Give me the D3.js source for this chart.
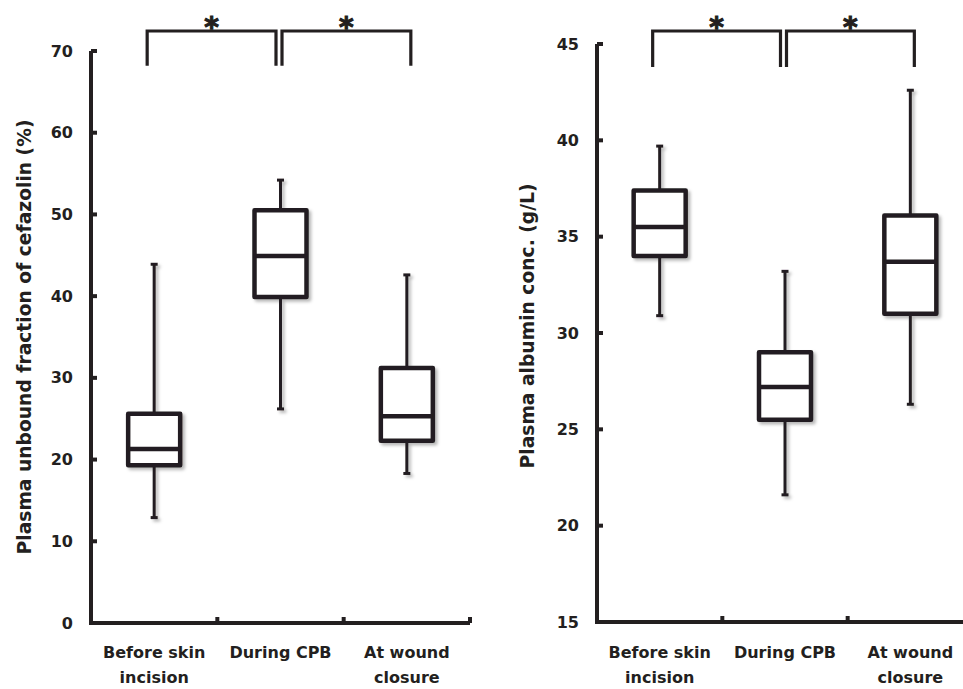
<!DOCTYPE html>
<html><head><meta charset="utf-8">
<script src="https://cdn.jsdelivr.net/npm/d3@7"></script>
<style>
html,body{margin:0;padding:0;background:#fff;}
svg text{font-family:"DejaVu Sans",sans-serif;font-weight:700;fill:#231f20;}
</style></head>
<body><svg id="c" width="963" height="689"></svg>
<script>
const categories = ["Before skin|incision", "During CPB", "At wound|closure"];

// Panel A: plasma unbound fraction of cefazolin (%)
const fracMin = [12.9, 26.2, 18.3];
const fracQ1  = [19.3, 39.9, 22.3];
const fracMed = [21.3, 44.9, 25.3];
const fracQ3  = [25.6, 50.5, 31.2];
const fracMax = [43.9, 54.2, 42.6];
const fracTicks = [0, 10, 20, 30, 40, 50, 60, 70];

// Panel B: plasma albumin conc. (g/L)
const albMin = [30.9, 21.6, 26.3];
const albQ1  = [34.0, 25.5, 31.0];
const albMed = [35.5, 27.2, 33.7];
const albQ3  = [37.4, 29.0, 36.1];
const albMax = [39.7, 33.2, 42.6];
const albTicks = [15, 20, 25, 30, 35, 40, 45];

// significance brackets: [from, to] category index
const sigPairs = [[0, 1], [1, 2]];
const sigLabel = "*";

const svg = d3.select("#c");
const ink = "#231f20";
const FONT = '"DejaVu Sans",sans-serif';

const defs = svg.append("defs");
const f = defs.append("filter").attr("id","sh").attr("x","-50%").attr("y","-50%").attr("width","200%").attr("height","200%");
f.append("feDropShadow").attr("dx",2.5).attr("dy",2.5).attr("stdDeviation",1.6)
 .attr("flood-color","#000").attr("flood-opacity",0.28);

function panel(opt){
  const g = svg.append("g");
  const y = d3.scaleLinear().domain(opt.domain).range([opt.y0, opt.y1]);
  const x = d3.scaleBand().domain(d3.range(categories.length)).range([opt.x0, opt.x1]).paddingInner(0).paddingOuter(0);
  const bw = x.bandwidth();
  const cx = i => x(i) + bw/2;

  // Y axis
  const ya = d3.axisLeft(y).tickValues(opt.ticks).tickSize(0).tickPadding(opt.tickPad).tickFormat(d3.format("d"));
  const yg = g.append("g").attr("transform",`translate(${opt.x0},0)`).call(ya);
  yg.select(".domain").remove();
  yg.selectAll("text").attr("font-size",16).attr("fill",ink).style("font-family",FONT).style("font-weight",700);
  g.append("line").attr("x1",opt.x0).attr("x2",opt.x0).attr("y1",y(opt.domain[0])+2).attr("y2",y(opt.domain[1]))
    .attr("stroke",ink).attr("stroke-width",4);
  g.selectAll(".ytk").data(opt.ticks).join("line").attr("x1",opt.x0).attr("x2",opt.x0+6)
    .attr("y1",d=>y(d)).attr("y2",d=>y(d)).attr("stroke",ink).attr("stroke-width",4);

  // X axis
  g.append("line").attr("x1",opt.x0-2).attr("x2",opt.x1).attr("y1",y(opt.domain[0])).attr("y2",y(opt.domain[0]))
    .attr("stroke",ink).attr("stroke-width",4);
  const xt = d3.range(1, categories.length+1).map(i => opt.x0 + i*bw);
  g.selectAll(".xtk").data(xt).join("line").attr("x1",d=>d).attr("x2",d=>d)
    .attr("y1",y(opt.domain[0])).attr("y2",y(opt.domain[0])-6).attr("stroke",ink).attr("stroke-width",4);

  // X labels
  categories.forEach((c,i)=>{
    const t = g.append("text").attr("text-anchor","middle").attr("font-size",16).attr("x",cx(i));
    c.split("|").forEach((l,k)=>{
      t.append("tspan").attr("x",cx(i)).attr("y",opt.labY + k*25).text(l);
    });
  });

  // Y title
  g.append("text").attr("transform",`translate(${opt.titleX},${opt.titleY}) rotate(-90)`)
    .attr("text-anchor","middle").attr("font-size",18.7).text(opt.title);

  // boxes
  const boxW = opt.boxW;
  const bg = g.append("g").attr("filter","url(#sh)");
  categories.forEach((c,i)=>{
    const X = cx(i);
    bg.append("line").attr("x1",X).attr("x2",X).attr("y1",y(opt.max[i])).attr("y2",y(opt.q3[i])).attr("stroke",ink).attr("stroke-width",3);
    bg.append("line").attr("x1",X).attr("x2",X).attr("y1",y(opt.q1[i])).attr("y2",y(opt.min[i])).attr("stroke",ink).attr("stroke-width",3);
    bg.append("line").attr("x1",X-3.5).attr("x2",X+3.5).attr("y1",y(opt.max[i])).attr("y2",y(opt.max[i])).attr("stroke",ink).attr("stroke-width",3);
    bg.append("line").attr("x1",X-3.5).attr("x2",X+3.5).attr("y1",y(opt.min[i])).attr("y2",y(opt.min[i])).attr("stroke",ink).attr("stroke-width",3);
    bg.append("rect").attr("x",X-boxW/2).attr("width",boxW).attr("y",y(opt.q3[i])).attr("height",y(opt.q1[i])-y(opt.q3[i]))
      .attr("fill","#fff").attr("stroke",ink).attr("stroke-width",4.5).attr("stroke-linejoin","round");
    bg.append("line").attr("x1",X-boxW/2).attr("x2",X+boxW/2).attr("y1",y(opt.med[i])).attr("y2",y(opt.med[i])).attr("stroke",ink).attr("stroke-width",4.5);
  });

  // significance brackets
  sigPairs.forEach(([a,b],k)=>{
    const xa = k===0 ? cx(a) - 7 : cx(a) + 1.5;
    const xb = k===0 ? cx(b) - 4.5 : cx(b) + 4;
    const yl = y(opt.sigLow), yt = opt.sigTop;
    g.append("path").attr("d",`M${xa},${yl}V${yt}H${xb}V${yl}`).attr("fill","none").attr("stroke",ink).attr("stroke-width",3.2);
    g.append("text").attr("x",(xa+xb)/2).attr("y",yt+6).attr("text-anchor","middle").attr("font-size",28)
      .attr("stroke",ink).attr("stroke-width",1.1).text(sigLabel);
  });
}

panel({
  domain:[0,70], y0:623, y1:51, x0:91, x1:470, ticks:fracTicks, tickPad:18,
  min:fracMin, q1:fracQ1, med:fracMed, q3:fracQ3, max:fracMax,
  boxW:52, labY:658, title:"Plasma unbound fraction of cefazolin (%)", titleX:31, titleY:337,
  sigLow:68.2, sigTop:31
});
panel({
  domain:[15,45], y0:622, y1:44, x0:597, x1:973, ticks:albTicks, tickPad:18,
  min:albMin, q1:albQ1, med:albMed, q3:albQ3, max:albMax,
  boxW:52, labY:658, title:"Plasma albumin conc. (g/L)", titleX:534, titleY:326,
  sigLow:43.8, sigTop:31
});
</script></body></html>
